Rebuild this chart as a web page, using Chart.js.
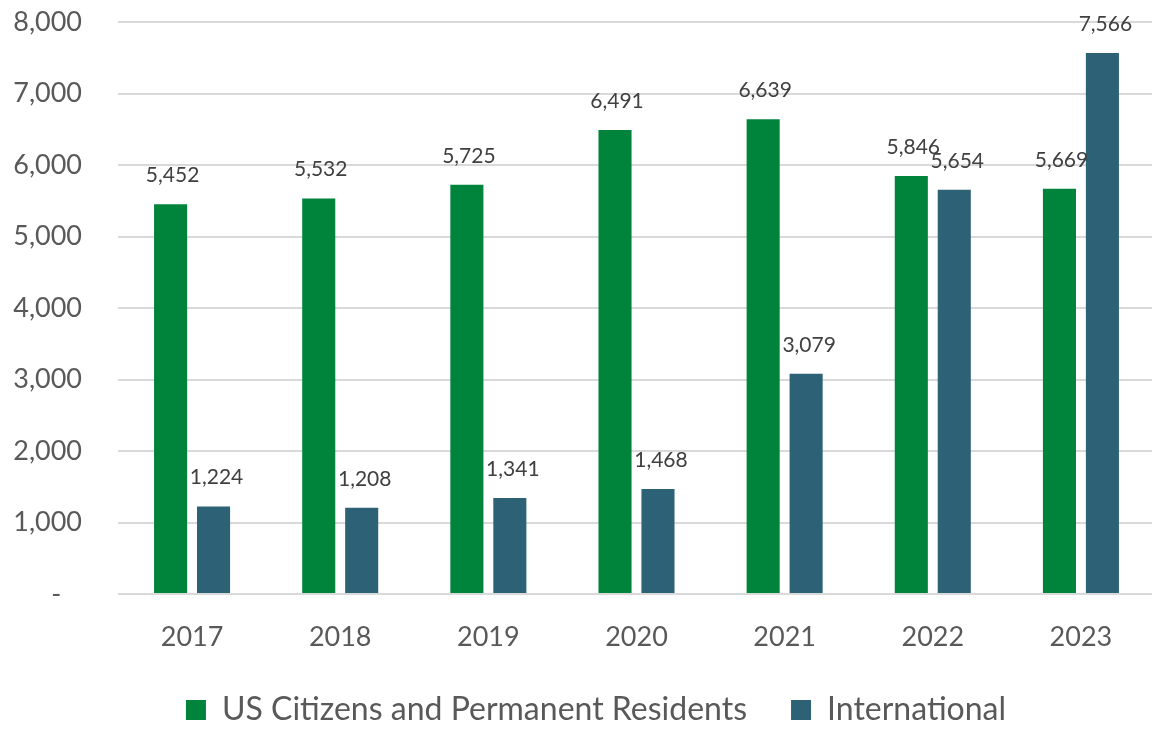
<!DOCTYPE html>
<html>
<head>
<meta charset="utf-8">
<script src="https://cdn.jsdelivr.net/npm/chart.js@4"></script>
<style>
  html, body { margin: 0; padding: 0; background: #ffffff; overflow: hidden; }
  #wrap { position: relative; width: 1192px; height: 729px; }
</style>
</head>
<body>
<div id="wrap"><canvas id="c"></canvas></div>
<script>
const years = ['2017', '2018', '2019', '2020', '2021', '2022', '2023'];
const usCitizens = [5452, 5532, 5725, 6491, 6639, 5846, 5669];
const international = [1224, 1208, 1341, 1468, 3079, 5654, 7566];
const seriesNames = ['US Citizens and Permanent Residents', 'International'];
const yTicks = [0, 1000, 2000, 3000, 4000, 5000, 6000, 7000, 8000];

const GREEN = '#00843c';
const BLUE = '#2d6276';
const FONT = 'Lato';

const fmt = v => v.toLocaleString('en-US');

const dataLabels = {
  id: 'dataLabels',
  afterDatasetsDraw(chart) {
    const ctx = chart.ctx;
    ctx.save();
    ctx.font = '21px ' + FONT;
    ctx.fillStyle = '#404040';
    ctx.textAlign = 'center';
    ctx.textBaseline = 'alphabetic';
    chart.data.datasets.forEach((ds, di) => {
      const meta = chart.getDatasetMeta(di);
      meta.data.forEach((bar, i) => {
        ctx.fillText(fmt(ds.data[i]), bar.x + (di === 0 ? 2 : 3), bar.y - 22);
      });
    });
    ctx.restore();
  }
};

new Chart(document.getElementById('c'), {
  type: 'bar',
  data: {
    labels: years,
    datasets: [
      { label: seriesNames[0], data: usCitizens, backgroundColor: GREEN },
      { label: seriesNames[1], data: international, backgroundColor: BLUE }
    ]
  },
  options: {
    responsive: true,
    maintainAspectRatio: false,
    animation: false,
    devicePixelRatio: 1,
    layout: { padding: { top: 22, right: 0, left: 0, bottom: -7 } },
    categoryPercentage: 0.58,
    barPercentage: 0.77,
    scales: {
      x: {
        grid: { display: false, drawTicks: false },
        border: { display: false },
        ticks: { color: '#595959', font: { family: FONT, size: 27 }, padding: 27 },
        afterFit(s) { s.height = 56; s.paddingLeft = 0; s.paddingRight = 0; }
      },
      y: {
        min: 0, max: 8000,
        afterBuildTicks(s) { s.ticks = yTicks.map(v => ({ value: v })); },
        grid: { color: '#d9d9d9', lineWidth: 2, drawTicks: false },
        border: { display: false },
        ticks: {
          color: '#595959',
          font: { family: FONT, size: 27 },
          padding: 36,
          callback: v => v === 0 ? '-   ' : fmt(v)
        },
        afterFit(s) { s.width = 118; s.paddingTop = 0; s.paddingBottom = 0; }
      },
      yPad: {
        position: 'right',
        display: true,
        grid: { display: false, drawTicks: false },
        border: { display: false },
        ticks: { display: false },
        afterFit(s) { s.width = 37; s.paddingTop = 0; s.paddingBottom = 0; }
      }
    },
    plugins: {
      legend: {
        position: 'bottom',
        labels: {
          color: '#595959',
          font: { family: FONT, size: 32 },
          boxWidth: 20,
          boxHeight: 20,
          padding: 44
        }
      },
      tooltip: { enabled: false }
    }
  },
  plugins: [dataLabels]
});
</script>
</body>
</html>
